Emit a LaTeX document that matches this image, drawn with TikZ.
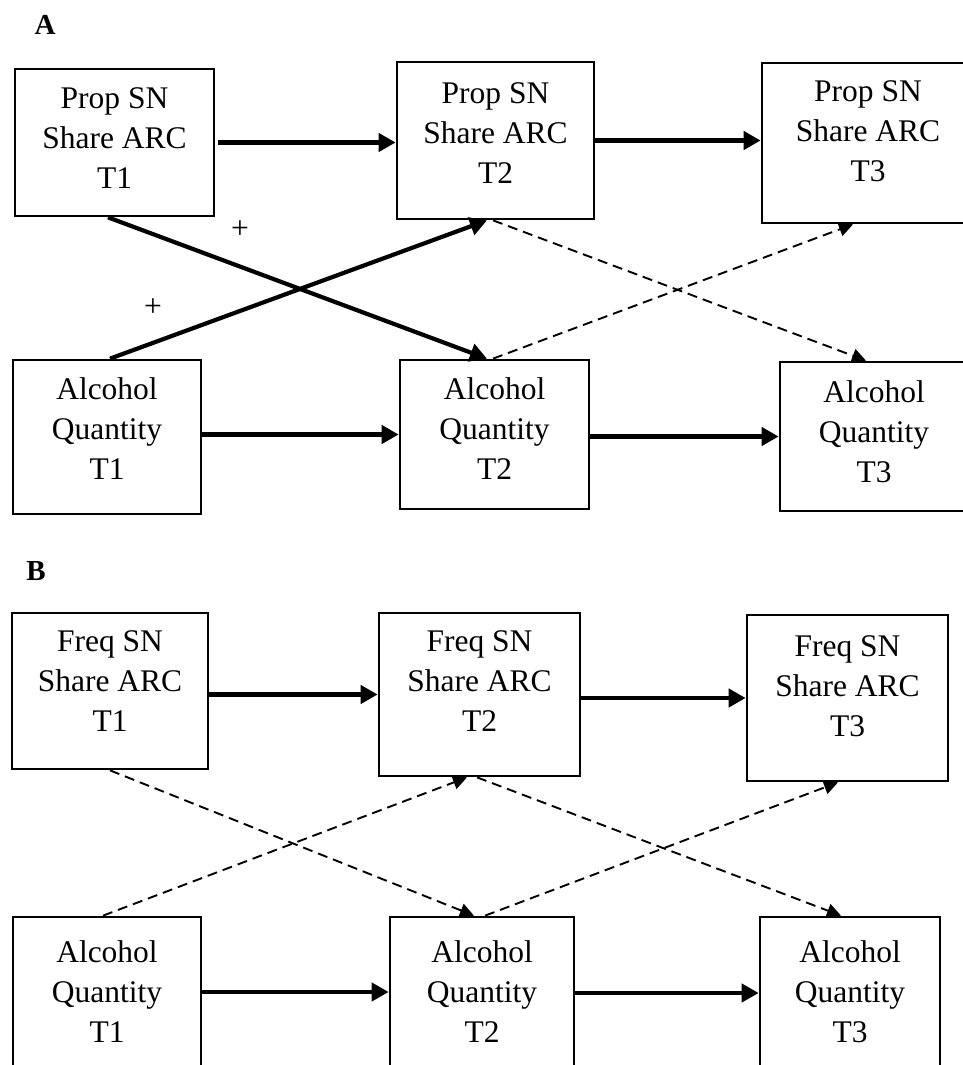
\documentclass[tikz,border=0pt]{standalone}
\usepackage{fontspec}
\setmainfont{Liberation Serif}
\usetikzlibrary{arrows.meta,calc}
\begin{document}
\begin{tikzpicture}[x=1pt,y=-1pt,
  panelbox/.style={draw, line width=2.7pt, inner sep=0pt},
  boxtext/.style={align=center, inner sep=0pt, anchor=north,
    font=\fontsize{31.5}{40}\selectfont},
  sign/.style={inner sep=0pt, font=\fontsize{31.5}{40}\selectfont},
  panel/.style={inner sep=0pt, font=\fontsize{29}{34}\selectfont\bfseries},
  strong/.style={line width=4.2pt, -{Triangle[length=17pt,width=18pt]}},
  weak/.style={line width=1.9pt, dash pattern=on 10pt off 6pt,
    -{Triangle[length=14pt,width=14pt]}},
]
\useasboundingbox (0,0) rectangle (963,1065);
\clip (0,0) rectangle (963,1065);

% ---------------- Panel A ----------------
\node[panel] (labA) at (45,25) {A};

\node[panelbox, minimum width=199pt, minimum height=147pt] (a1) at (114.5,142.5) {};
\node[panelbox, minimum width=197pt, minimum height=157pt] (a2) at (495.5,140.5) {};
\node[panelbox, minimum width=212pt, minimum height=160pt] (a3) at (868,143) {};
\node[panelbox, minimum width=188pt, minimum height=154pt] (a4) at (107,437) {};
\node[panelbox, minimum width=189pt, minimum height=149pt] (a5) at (494.5,434.5) {};
\node[panelbox, minimum width=188pt, minimum height=149pt] (a6) at (874,436.5) {};

\node[boxtext] (a1t) at ([yshift=-20pt]a1.north) {Prop SN\\Share ARC\\T1};
\node[boxtext] (a2t) at ([yshift=-22pt]a2.north) {Prop SN\\Share ARC\\T2};
\node[boxtext] (a3t) at ([yshift=-19pt]a3.north) {Prop SN\\Share ARC\\T3};
\node[boxtext] (a4t) at ([yshift=-19pt]a4.north) {Alcohol\\Quantity\\T1};
\node[boxtext] (a5t) at ([yshift=-19pt]a5.north) {Alcohol\\Quantity\\T2};
\node[boxtext] (a6t) at ([yshift=-20pt]a6.north) {Alcohol\\Quantity\\T3};

% stability paths
\draw[strong, shorten <=3pt] (a1.east) -- (a1.east -| a2.west);
\draw[strong] (a2.east) -- (a2.east -| a3.west);
\draw[strong] (a5.west -| a4.east) -- (a5.west);
\draw[strong] (a6.west -| a5.east) -- (a6.west);

% cross-lagged paths
\draw[strong] ([xshift=-6.5pt]a1.south) -- ([xshift=-7.5pt]a5.north);
\draw[strong] ([xshift=3pt]a4.north) -- ([xshift=-8.5pt]a2.south);
\draw[weak] ([xshift=-2.5pt]a2.south) -- ([xshift=-8pt]a6.north);
\draw[weak] ([xshift=-1.5pt]a5.north) -- ([xshift=-15pt]a3.south);

\node[sign] (plus1) at (240,230) {+};
\node[sign] (plus2) at (153,308) {+};

% ---------------- Panel B ----------------
\node[panel] (labB) at (36,571) {B};

\node[panelbox, minimum width=196pt, minimum height=156pt] (b1) at (110,691) {};
\node[panelbox, minimum width=201pt, minimum height=163pt] (b2) at (479.5,694.5) {};
\node[panelbox, minimum width=201pt, minimum height=166pt] (b3) at (847.5,698) {};
\node[panelbox, minimum width=188pt, minimum height=200pt] (b4) at (107,1017) {};
\node[panelbox, minimum width=184pt, minimum height=200pt] (b5) at (482,1017) {};
\node[panelbox, minimum width=180pt, minimum height=200pt] (b6) at (850,1017) {};

\node[boxtext] (b1t) at ([yshift=-19pt]b1.north) {Freq SN\\Share ARC\\T1};
\node[boxtext] (b2t) at ([yshift=-19pt]b2.north) {Freq SN\\Share ARC\\T2};
\node[boxtext] (b3t) at ([yshift=-22pt]b3.north) {Freq SN\\Share ARC\\T3};
\node[boxtext] (b4t) at ([yshift=-25pt]b4.north) {Alcohol\\Quantity\\T1};
\node[boxtext] (b5t) at ([yshift=-25pt]b5.north) {Alcohol\\Quantity\\T2};
\node[boxtext] (b6t) at ([yshift=-25pt]b6.north) {Alcohol\\Quantity\\T3};

% stability paths
\draw[strong] (b2.west -| b1.east) -- (b2.west);
\draw[strong] (b3.west -| b2.east) -- (b3.west);
\draw[strong] ([yshift=25pt]b4.east) -- ([yshift=25pt]b4.east -| b5.west);
\draw[strong] ([yshift=24pt]b5.east) -- ([yshift=24pt]b5.east -| b6.west);

% cross-lagged paths
\draw[weak] (b1.south) -- ([xshift=-8pt]b5.north);
\draw[weak] ([xshift=-4pt]b4.north) -- ([xshift=-12.5pt]b2.south);
\draw[weak] ([xshift=-2.5pt]b2.south) -- ([xshift=-9pt]b6.north);
\draw[weak] ([xshift=3pt]b5.north) -- ([xshift=-9.5pt]b3.south);
\end{tikzpicture}
\end{document}
